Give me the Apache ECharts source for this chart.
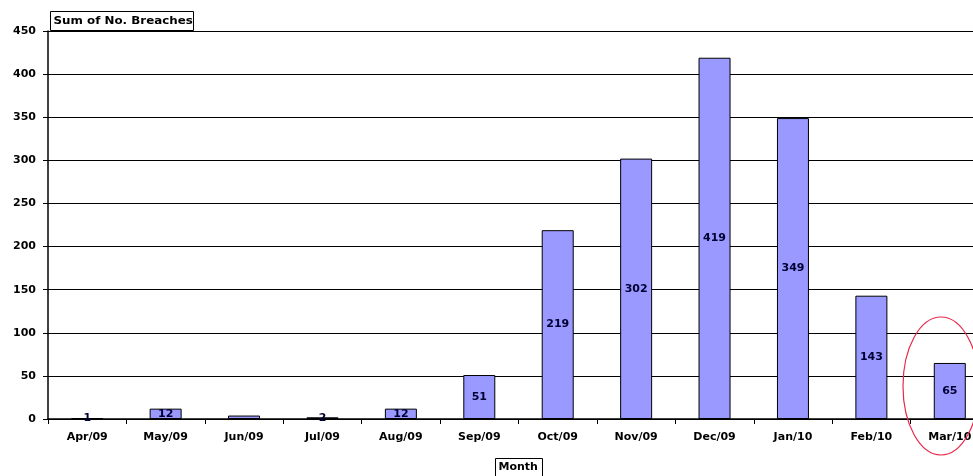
<!DOCTYPE html>
<html>
<head>
<meta charset="utf-8">
<script src="https://cdn.jsdelivr.net/npm/echarts@6/dist/echarts.min.js"></script>
<style>
  html, body { margin: 0; padding: 0; background: #fff; }
  #chart { width: 973px; height: 476px; }
</style>
</head>
<body>
<div id="chart"></div>
<script>
// Monthly breach counts, Apr 2009 – Mar 2010
var months = ['Apr/09', 'May/09', 'Jun/09', 'Jul/09', 'Aug/09', 'Sep/09',
              'Oct/09', 'Nov/09', 'Dec/09', 'Jan/10', 'Feb/10', 'Mar/10'];
var breaches = [1, 12, 4, 2, 12, 51, 219, 302, 419, 349, 143, 65];
var hiddenLabels = ['Jun/09'];
var yTicks = [0, 50, 100, 150, 200, 250, 300, 350, 400, 450];

var chart = echarts.init(document.getElementById('chart'));
var font = '"DejaVu Sans", Verdana, sans-serif';

chart.setOption({
  animation: false,
  backgroundColor: '#ffffff',
  // plot area runs past the right edge of the canvas
  grid: { left: 48, width: 941, top: 31, bottom: 57, containLabel: false, outerBoundsMode: 'none' },
  xAxis: {
    type: 'category',
    data: months,
    axisLine: { lineStyle: { color: '#000', width: 1.5 } },
    axisTick: { show: true, length: 5, lineStyle: { color: '#000' } },
    axisLabel: { color: '#000', fontFamily: font, fontWeight: 'bold', fontSize: 11, margin: 13, hideOverlap: false }
  },
  yAxis: {
    type: 'value',
    min: yTicks[0],
    max: yTicks[yTicks.length - 1],
    interval: 50,
    axisLine: { show: true, lineStyle: { color: '#000', width: 1.5 } },
    axisTick: { show: true, length: 5, lineStyle: { color: '#000' } },
    axisLabel: { color: '#000', fontFamily: font, fontWeight: 'bold', fontSize: 11, margin: 12 },
    splitLine: { show: true, lineStyle: { color: '#000', width: 1 } }
  },
  series: [{
    type: 'bar',
    barWidth: 32,
    data: breaches.map(function (v, i) {
      var item = { value: v };
      if (hiddenLabels.indexOf(months[i]) >= 0) item.label = { show: false };
      return item;
    }),
    itemStyle: { color: '#9999ff', borderColor: '#000', borderWidth: 1 },
    label: {
      show: true,
      position: 'inside',
      color: '#000033',
      fontFamily: font,
      fontWeight: 'bold',
      fontSize: 11
    }
  }],
  graphic: [
    {
      type: 'group', left: 50, top: 11,
      children: [
        { type: 'rect', shape: { x: 0, y: 0, width: 143, height: 19 },
          style: { fill: '#fff', stroke: '#000', lineWidth: 1 } },
        { type: 'text', x: 3, y: 4, scaleX: 1.08,
          style: { text: 'Sum of No. Breaches', fill: '#000', font: 'bold 11px ' + font } }
      ]
    },
    {
      type: 'group', left: 495, top: 458,
      children: [
        { type: 'rect', shape: { x: 0, y: 0, width: 47, height: 18 },
          style: { fill: '#fff', stroke: '#000', lineWidth: 1 } },
        { type: 'text', x: 3, y: 3,
          style: { text: 'Month', fill: '#000', font: 'bold 11px ' + font } }
      ]
    },
    {
      type: 'ellipse',
      shape: { cx: 941, cy: 386, rx: 38, ry: 69 },
      style: { fill: 'none', stroke: '#e8284a', lineWidth: 1.2 },
      z: 100
    }
  ]
});
</script>
</body>
</html>
